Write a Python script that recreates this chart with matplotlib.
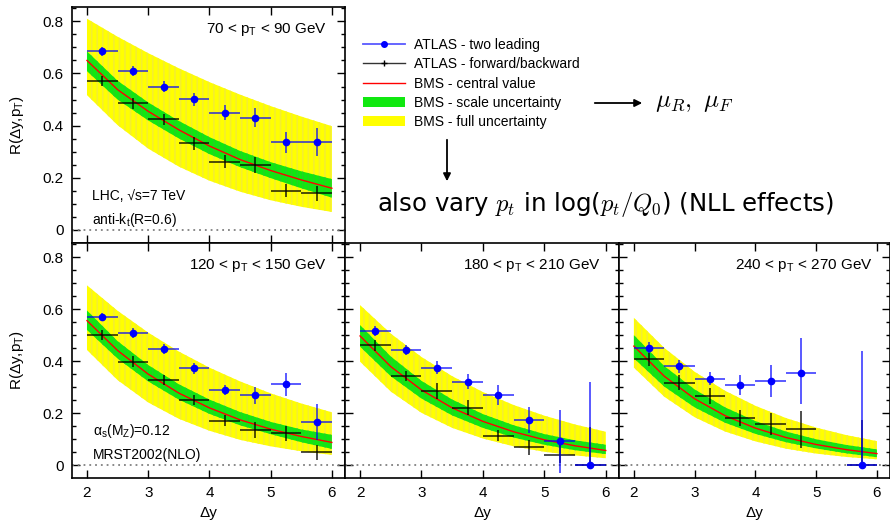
#!/usr/bin/env python
"""plot.py - R(dy, pT) ratio vs rapidity separation, ATLAS data vs BMS"""
import matplotlib
matplotlib.use('Agg')
import matplotlib.pyplot as plt
from matplotlib.lines import Line2D
from matplotlib.patches import Patch, FancyArrowPatch

plt.rcParams['font.family'] = ['Liberation Sans', 'DejaVu Sans']
plt.rcParams['mathtext.fontset'] = 'custom'
plt.rcParams['mathtext.rm'] = 'Liberation Sans'
plt.rcParams['mathtext.it'] = 'Liberation Sans:italic'
plt.rcParams['hatch.linewidth'] = 1.2

# rapidity bins of the data
dy_bins = [2.25, 2.75, 3.25, 3.75, 4.25, 4.75, 5.25, 5.75]
dy_halfwidth = 0.25
pt_labels = ['70 < p$_\\mathrm{T}$ < 90 GeV', '120 < p$_\\mathrm{T}$ < 150 GeV',
             '180 < p$_\\mathrm{T}$ < 210 GeV', '240 < p$_\\mathrm{T}$ < 270 GeV']

# ATLAS - two leading (one list per pT bin)
nan = float('nan')
atlas_lead = [[0.685, 0.609, 0.550, 0.501, 0.449, 0.431, 0.337, 0.338],
              [0.570, 0.508, 0.446, 0.372, 0.290, 0.268, 0.311, 0.166],
              [0.515, 0.443, 0.375, 0.321, 0.270, 0.172, 0.091, 0.000],
              [0.452, 0.381, 0.333, 0.308, 0.325, 0.353, nan, 0.000]]
atlas_lead_up = [[0.018, 0.019, 0.020, 0.026, 0.029, 0.038, 0.040, 0.054],
                 [0.017, 0.020, 0.020, 0.020, 0.020, 0.032, 0.045, 0.068],
                 [0.020, 0.020, 0.025, 0.030, 0.040, 0.050, 0.120, 0.320],
                 [0.020, 0.025, 0.025, 0.040, 0.062, 0.135, nan, 0.440]]
atlas_lead_dn = [[0.018, 0.019, 0.020, 0.026, 0.029, 0.038, 0.040, 0.054],
                 [0.017, 0.020, 0.020, 0.020, 0.020, 0.032, 0.045, 0.068],
                 [0.020, 0.020, 0.025, 0.030, 0.040, 0.050, 0.120, 0.000],
                 [0.020, 0.025, 0.025, 0.040, 0.062, 0.118, nan, 0.000]]

# ATLAS - forward/backward
atlas_fb = [[0.572, 0.485, 0.424, 0.332, 0.262, 0.249, 0.151, 0.140],
            [0.500, 0.398, 0.327, 0.250, 0.171, 0.135, 0.122, 0.049],
            [0.461, 0.343, 0.286, 0.221, 0.113, 0.068, 0.039, 0.000],
            [0.408, 0.317, 0.266, 0.182, 0.158, 0.137, nan, 0.000]]
atlas_fb_up = [[0.019, 0.020, 0.020, 0.025, 0.025, 0.030, 0.025, 0.030],
               [0.020, 0.020, 0.020, 0.020, 0.020, 0.030, 0.030, 0.030],
               [0.020, 0.020, 0.030, 0.030, 0.020, 0.030, 0.060, 0.148],
               [0.025, 0.030, 0.030, 0.030, 0.042, 0.070, nan, 0.173]]
atlas_fb_dn = [[0.019, 0.020, 0.020, 0.025, 0.025, 0.030, 0.025, 0.030],
               [0.020, 0.020, 0.020, 0.020, 0.020, 0.030, 0.030, 0.030],
               [0.020, 0.020, 0.030, 0.030, 0.020, 0.030, 0.030, 0.000],
               [0.025, 0.030, 0.030, 0.030, 0.042, 0.070, nan, 0.000]]

# BMS prediction, read at half-unit steps in dy
theory_x = [2.0, 2.5, 3.0, 3.5, 4.0, 4.5, 5.0, 5.5, 6.0]
bms_central = [[0.650, 0.538, 0.455, 0.384, 0.322, 0.270, 0.228, 0.192, 0.160],
               [0.556, 0.441, 0.350, 0.277, 0.220, 0.174, 0.138, 0.110, 0.087],
               [0.497, 0.379, 0.289, 0.220, 0.168, 0.128, 0.097, 0.074, 0.056],
               [0.458, 0.342, 0.255, 0.190, 0.142, 0.106, 0.079, 0.059, 0.044]]
bms_scale_hi = [[0.685, 0.572, 0.489, 0.418, 0.356, 0.303, 0.260, 0.225, 0.195],
                [0.595, 0.477, 0.385, 0.311, 0.252, 0.204, 0.166, 0.137, 0.116],
                [0.539, 0.418, 0.324, 0.252, 0.196, 0.153, 0.119, 0.095, 0.078],
                [0.500, 0.381, 0.291, 0.222, 0.169, 0.129, 0.099, 0.077, 0.060]]
bms_scale_lo = [[0.609, 0.500, 0.420, 0.351, 0.291, 0.241, 0.199, 0.160, 0.124],
                [0.520, 0.410, 0.322, 0.252, 0.197, 0.153, 0.119, 0.088, 0.062],
                [0.456, 0.342, 0.256, 0.191, 0.143, 0.106, 0.078, 0.057, 0.042],
                [0.411, 0.302, 0.222, 0.163, 0.120, 0.088, 0.064, 0.045, 0.030]]
bms_full_hi = [[0.810, 0.741, 0.678, 0.620, 0.567, 0.519, 0.475, 0.435, 0.398],
               [0.692, 0.594, 0.510, 0.437, 0.375, 0.322, 0.276, 0.237, 0.203],
               [0.616, 0.506, 0.416, 0.342, 0.281, 0.231, 0.190, 0.156, 0.128],
               [0.567, 0.451, 0.359, 0.286, 0.228, 0.181, 0.144, 0.115, 0.092]]
bms_full_lo = [[0.517, 0.402, 0.312, 0.243, 0.189, 0.147, 0.114, 0.089, 0.069],
               [0.443, 0.327, 0.241, 0.178, 0.132, 0.097, 0.072, 0.053, 0.039],
               [0.398, 0.283, 0.201, 0.143, 0.102, 0.072, 0.051, 0.037, 0.026],
               [0.375, 0.263, 0.184, 0.129, 0.091, 0.063, 0.044, 0.031, 0.022]]

W, H = 890, 527
fig = plt.figure(figsize=(W / 100, H / 100), dpi=100)


def px_axes(x0, y0, x1, y1):
    """Axes from pixel box (top-left origin)"""
    return fig.add_axes([x0 / W, 1 - y1 / H, (x1 - x0) / W, (y1 - y0) / H])


axes = [px_axes(72, 7, 345, 243), px_axes(72, 243, 345, 478),
        px_axes(345, 243, 619, 478), px_axes(619, 243, 890, 478)]

YELLOW = '#ffff00'
GREEN = '#10e810'

for i, ax in enumerate(axes):
    # faint vertical striping as in the original rendering
    ax.fill_between(theory_x, bms_full_lo[i], bms_full_hi[i], facecolor=YELLOW,
                    edgecolor='#f4ee30', hatch='|||', lw=0, zorder=1)
    ax.fill_between(theory_x, bms_scale_lo[i], bms_scale_hi[i], facecolor=GREEN,
                    edgecolor='#22d422', hatch='|||', lw=0, zorder=2)
    ax.plot(theory_x, bms_central[i], color='red', lw=1.0, zorder=3)
    ax.axhline(0, color='#808080', lw=1.3, ls=(0, (1, 2.2)), zorder=2)
    ax.errorbar(dy_bins, atlas_fb[i], xerr=dy_halfwidth,
                yerr=[atlas_fb_dn[i], atlas_fb_up[i]], fmt='none',
                ecolor=(0, 0, 0, 0.75), elinewidth=1.3, zorder=4)
    ax.errorbar(dy_bins, atlas_lead[i], xerr=dy_halfwidth,
                yerr=[atlas_lead_dn[i], atlas_lead_up[i]], fmt='o', color='blue',
                ms=4.5, ecolor=(0, 0, 1, 0.7), elinewidth=1.3, zorder=5)

    ax.set_xlim(1.755, 6.215)
    ax.set_ylim(-0.05, 0.855)
    ax.set_xticks([2, 3, 4, 5, 6])
    ax.set_yticks([0, 0.2, 0.4, 0.6, 0.8])
    ax.set_yticks([k * 0.05 for k in range(18)], minor=True)
    ax.set_yticklabels(['0', '0.2', '0.4', '0.6', '0.8'])
    ax.tick_params(which='both', direction='in', top=True, right=True,
                   labelsize=11, pad=6)
    ax.tick_params(which='major', length=6, width=1)
    ax.tick_params(which='minor', length=3, width=1)
    for sp in ax.spines.values():
        sp.set_linewidth(1.2)
    ax.text(0.935, 0.905, pt_labels[i], transform=ax.transAxes,
            ha='right', va='center', fontsize=11)
    if i > 1:
        ax.set_yticklabels([])
    else:
        ax.set_ylabel('R(Δy,p$_\\mathrm{T}$)', fontsize=11)
        ax.yaxis.set_label_coords(-0.17, 0.5)
    if i == 0:
        ax.set_xticklabels([])
    else:
        ax.set_xlabel('Δy', fontsize=11, labelpad=4)

axes[0].text(0.073, 0.199, 'LHC, √s=7 TeV', transform=axes[0].transAxes,
             ha='left', va='center', fontsize=10)
axes[0].text(0.073, 0.097, 'anti-k$_\\mathrm{t}$(R=0.6)', transform=axes[0].transAxes,
             ha='left', va='center', fontsize=10)
axes[1].text(0.077, 0.20, 'α$_\\mathrm{s}$(M$_\\mathrm{Z}$)=0.12', transform=axes[1].transAxes,
             ha='left', va='center', fontsize=10)
axes[1].text(0.077, 0.098, 'MRST2002(NLO)', transform=axes[1].transAxes,
             ha='left', va='center', fontsize=10)

handles = [Line2D([], [], color=(0.35, 0.35, 1), lw=1.3, marker='o', ms=4,
                  mfc='blue', mec='blue'),
           Line2D([], [], color='#333333', lw=1.0, marker='+', ms=4, mec='black'),
           Line2D([], [], color='red', lw=1.0),
           Patch(facecolor=GREEN, edgecolor='none'),
           Patch(facecolor=YELLOW, edgecolor='none')]
labels = ['ATLAS - two leading', 'ATLAS - forward/backward', 'BMS - central value',
          'BMS - scale uncertainty', 'BMS - full uncertainty']
fig.legend(handles, labels, loc='upper left', bbox_to_anchor=(363 / W, 1 - 38 / H),
           frameon=False, fontsize=10, handlelength=3.0, handletextpad=0.7,
           labelspacing=0.38, borderpad=0, borderaxespad=0)

fig.add_artist(FancyArrowPatch((592 / W, 1 - 103 / H), (645 / W, 1 - 103 / H),
                               transform=fig.transFigure, arrowstyle='-|>',
                               mutation_scale=11, lw=1.3, color='black'))
fig.add_artist(FancyArrowPatch((447 / W, 1 - 137 / H), (447 / W, 1 - 184 / H),
                               transform=fig.transFigure, arrowstyle='-|>',
                               mutation_scale=11, lw=1.3, color='black'))
fig.text(655 / W, 1 - 102 / H, r'$\mu_R,\ \mu_F$', fontsize=18,
         math_fontfamily='cm', ha='left', va='center')
fig.text(377 / W, 1 - 205 / H, r'also vary $p_t$ in log($p_t/Q_0$) (NLL effects)',
         fontsize=17.6, family='DejaVu Sans', math_fontfamily='cm',
         ha='left', va='center')

fig.savefig('out.png', dpi=100)
plt.close()
